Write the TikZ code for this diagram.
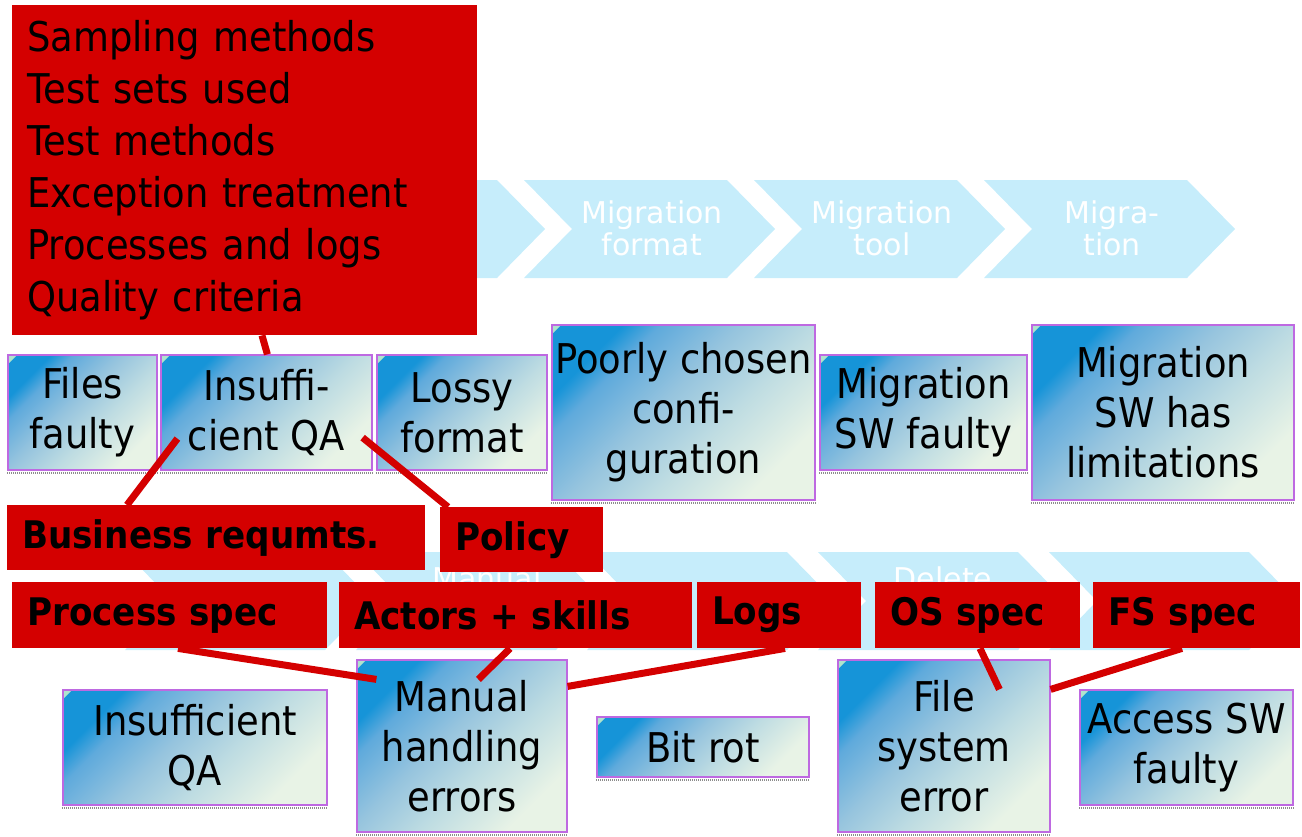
\documentclass[tikz,border=0pt]{standalone}
\usepackage{fontspec}
\setmainfont{DejaVu Sans}[FakeStretch=0.9]
\newfontfamily\chevfont{DejaVu Sans}

\definecolor{chevblue}{RGB}{198,237,251}
\definecolor{causered}{RGB}{212,0,0}
\definecolor{boxedge}{RGB}{190,105,225}
\definecolor{gradtop}{RGB}{22,148,216}
\definecolor{gradhi}{RGB}{95,170,220}
\definecolor{gradmid}{RGB}{150,196,222}
\definecolor{gradlow}{RGB}{190,220,226}
\definecolor{gradbot}{RGB}{232,243,230}
\definecolor{cornerhi}{RGB}{175,228,205}

% diagonal fill of the cause boxes: vivid blue in one corner, pale green-white in the other
\pgfdeclareverticalshading{errshade}{100bp}{%
  color(0bp)=(gradbot); color(26bp)=(gradbot); color(42bp)=(gradlow);
  color(55bp)=(gradmid); color(68bp)=(gradhi); color(74bp)=(gradtop);
  color(100bp)=(gradtop)}

\tikzset{
  chev/.style={fill=chevblue, draw=none},
  chevtext/.style={text=white, align=center, inner sep=0pt,
    font=\chevfont\fontsize{30}{32}\selectfont},
  errbox/.style={draw=boxedge, line width=1.2pt, inner sep=0pt, align=center,
    shading=errshade, shading angle=45,
    font=\fontsize{41}{50}\selectfont,
    path picture={\fill[cornerhi] (path picture bounding box.north west)
      -- ++(9pt,0pt) -- ++(-9pt,-9pt) -- cycle;}},
  shadowline/.style={draw=black!45, line width=2pt, dash pattern=on 1pt off 1pt},
  causebox/.style={fill=causered, draw=none, anchor=north west, inner xsep=15pt,
    inner ysep=0pt, align=left, text=black,
    font=\bfseries\fontsize{38}{44}\selectfont},
  link/.style={draw=causered, line width=7pt},
}

\begin{document}
\begin{tikzpicture}[x=1pt, y=-1pt]
\useasboundingbox (0,0) rectangle (1302,836);

% process chevrons, upper row
\foreach \L in {64,294,524,754,984}
  \fill[chev] (\L,180) -- ++(203,0) -- ++(48,49) -- ++(-48,49) -- ++(-203,0) -- ++(48,-49) -- cycle;
\node[chevtext] (stepfmt)  at (652,228) {Migration\\format};
\node[chevtext] (steptool) at (882,228) {Migration\\tool};
\node[chevtext] (stepmig)  at (1112,228) {Migra-\\tion};

% process chevrons, lower row
\foreach \L in {125,356,587,818,1049}
  \fill[chev] (\L,552) -- ++(200,0) -- ++(48,49) -- ++(-48,49) -- ++(-200,0) -- ++(48,-49) -- cycle;
\node[chevtext] (stepman) at (487,578) {Manual};
\node[chevtext] (stepdel) at (943,578) {Delete};

% failure causes, upper row
\node[errbox, minimum width=149pt, minimum height=115pt] (ff)    at (82.5,412.5)  {Files\\faulty};
\node[errbox, minimum width=211pt, minimum height=115pt] (iqa)   at (266.5,412.5) {Insuffi-\\cient QA};
\node[errbox, minimum width=170pt, minimum height=115pt] (lossy) at (462,412.5)   {Lossy\\format};
\node[errbox, minimum width=263pt, minimum height=175pt] (poor)  at (683.5,412.5) {Poorly chosen\\confi-\\guration};
\node[errbox, minimum width=207pt, minimum height=115pt] (msw)   at (923.5,412.5) {Migration\\SW faulty};
\node[errbox, minimum width=262pt, minimum height=175pt] (lim)   at (1163,412.5)  {Migration\\SW has\\limitations};

% failure causes, lower row
\node[errbox, minimum width=264pt, minimum height=115pt] (iqab) at (195,747.5)   {Insufficient\\QA};
\node[errbox, minimum width=210pt, minimum height=172pt] (man)  at (462,746)     {Manual\\handling\\errors};
\node[errbox, minimum width=212pt, minimum height=60pt]  (bit)  at (703,747)     {Bit rot};
\node[errbox, minimum width=212pt, minimum height=172pt] (fse)  at (944,746)     {File\\system\\error};
\node[errbox, minimum width=213pt, minimum height=115pt] (acc)  at (1186.5,747.5) {Access SW\\faulty};

\foreach \n in {ff,iqa,lossy,poor,msw,lim,iqab,man,bit,fse,acc}
  \draw[shadowline] ([yshift=-2pt]\n.south west) -- ([yshift=-2pt]\n.south east);

% contributing factors
\node[causebox, minimum width=465pt, minimum height=330pt, text width=435pt,
      font=\fontsize{41}{52}\selectfont] (crit) at (12,5)
  {Sampling methods\\Test sets used\\Test methods\\Exception treatment\\Processes and logs\\Quality criteria};
\node[causebox, minimum height=65pt, text width=388pt] (bus)  at (7,505)    {Business requmts.};
\node[causebox, minimum height=65pt, text width=133pt] (pol)  at (440,507)  {Policy};
\node[causebox, minimum height=66pt, text width=285pt] (ps)   at (12,582)   {Process spec};
\node[causebox, minimum height=66pt, text width=323pt] (act)  at (339,582)  {Actors + skills};
\node[causebox, minimum height=66pt, text width=134pt] (logs) at (697,582)  {Logs};
\node[causebox, minimum height=66pt, text width=175pt] (os)   at (875,582)  {OS spec};
\node[causebox, minimum height=66pt, text width=177pt] (fs)   at (1093,582) {FS spec};

% links from factors to causes
\draw[link] ([xshift=250pt]crit.south west) -- ([xshift=107pt]iqa.north west);
\draw[link] ([xshift=120pt]bus.north west)  -- ([xshift=17pt,yshift=32pt]iqa.south west);
\draw[link] ([xshift=8pt]pol.north west)    -- ([xshift=-10pt,yshift=33pt]iqa.south east);
\draw[link] ([xshift=166pt]ps.south west)   -- ([xshift=20pt,yshift=-20pt]man.north west);
\draw[link] ([xshift=171pt]act.south west)  -- ([xshift=122pt,yshift=-20pt]man.north west);
\draw[link] ([xshift=88pt]logs.south west)  -- ([yshift=-27pt]man.north east);
\draw[link] ([xshift=105pt]os.south west)   -- ([xshift=162pt,yshift=-30pt]fse.north west);
\draw[link] ([xshift=89pt]fs.south west)    -- ([yshift=-30pt]fse.north east);
\end{tikzpicture}
\end{document}
